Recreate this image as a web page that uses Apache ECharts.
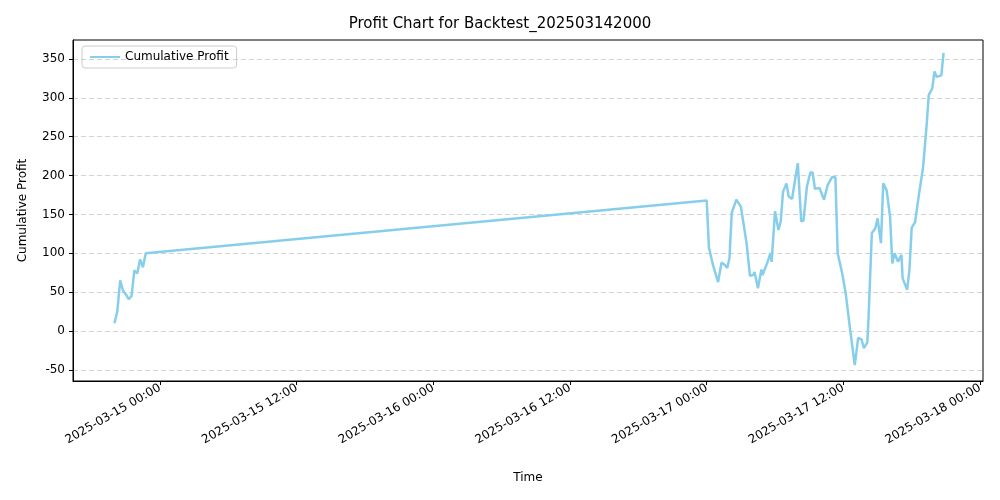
<!DOCTYPE html><html><head><meta charset="utf-8"><script src="https://cdn.jsdelivr.net/npm/echarts@6/dist/echarts.min.js"></script></head><body style="margin:0"><div id="c" style="width:1000px;height:500px"></div><script>
// hours offset from 2025-03-15 00:00
const hours=[-4.0,-3.75,-3.5,-3.25,-3.0,-2.75,-2.5,-2.25,-2.0,-1.75,-1.5,-1.25,
48.0,48.2,48.55,49.0,49.3,49.6,49.8,50.0,50.2,50.6,51.0,51.5,51.8,52.1,52.2,52.5,52.8,52.9,53.3,53.6,53.7,54.0,54.3,54.5,54.7,55.0,55.2,55.5,55.75,56.0,56.3,56.5,56.8,57.1,57.3,57.5,57.9,58.3,58.6,59.0,59.3,59.5,59.9,60.2,60.6,61.0,61.3,61.6,61.8,62.1,62.2,62.5,62.8,63.0,63.3,63.5,63.8,64.1,64.3,64.5,64.8,65.1,65.2,65.6,65.8,66.0,66.3,66.6,67.0,67.3,67.5,67.8,68.0,68.2,68.6,68.8];
const profit=[10,25,65,52,47,41,45,78,74,92,82,100,
168,107,85,63,88,85,81,94,152,169,160,113,71,72,76,55,79,72,87,100,89,154,130,141,179,190,173,170,194,216,141,142,186,204,204,183,184,169,187,198,198,100,74,49,1,-44,-9,-11,-22,-15,14,126,132,145,113,190,181,147,87,100,89,98,68,53,79,133,140,172,211,263,304,312,334,327,329,358];
const tickLabels=['2025-03-15 00:00','2025-03-15 12:00','2025-03-16 00:00','2025-03-16 12:00','2025-03-17 00:00','2025-03-17 12:00','2025-03-18 00:00'];
const yTicks=[-50,0,50,100,150,200,250,300,350];
const base=Date.UTC(2025,2,15,0,0);
const H=3600000;
const data=hours.map((h,i)=>[base+h*H,profit[i]]);
const xt=tickLabels.map((_,i)=>base+i*12*H);
const ch=echarts.init(document.getElementById('c'));
ch.setOption({
 animation:false,
 title:{text:'Profit Chart for Backtest_202503142000',left:'center',top:12,textStyle:{fontFamily:'DejaVu Sans',fontWeight:'normal',fontSize:15,color:'#000'}},
 legend:{left:82,top:46,data:['Cumulative Profit'],itemWidth:30,itemHeight:2,icon:'rect',borderColor:'#ccc',borderWidth:1,borderRadius:3,padding:[5,8],textStyle:{fontFamily:'DejaVu Sans',fontSize:12,color:'#000'}},
 grid:{left:73,right:17,top:40,bottom:119,show:true,borderColor:'#000',borderWidth:1},
 xAxis:{type:'value',min:base-7.64*H,max:base+72.26*H,
  axisLine:{onZero:false,lineStyle:{color:'#000'}},splitLine:{show:false},
  axisTick:{customValues:xt,length:4,lineStyle:{color:'#000'}},
  axisLabel:{customValues:xt,rotate:30,color:'#000',fontFamily:'DejaVu Sans',fontSize:12,margin:6,formatter:v=>tickLabels[Math.round((v-base)/(12*H))]},
  name:'Time',nameLocation:'middle',nameGap:91,nameTextStyle:{fontFamily:'DejaVu Sans',fontSize:12,color:'#000'}},
 yAxis:{type:'value',min:-64.4,max:374.5,
  axisLine:{show:true,lineStyle:{color:'#000'}},
  axisTick:{show:true,customValues:yTicks,length:4,lineStyle:{color:'#000'}},
  axisLabel:{customValues:yTicks,color:'#000',fontFamily:'DejaVu Sans',fontSize:12},
  splitLine:{show:true,lineStyle:{type:[5,3],color:'#d3d3d3'}},
  name:'Cumulative Profit',nameLocation:'middle',nameGap:44,nameTextStyle:{fontFamily:'DejaVu Sans',fontSize:12,color:'#000'}},
 series:[{name:'Cumulative Profit',type:'line',data:data,showSymbol:false,lineStyle:{color:'#87ceeb',width:2.5},itemStyle:{color:'#87ceeb'}}]
});
</script></body></html>
